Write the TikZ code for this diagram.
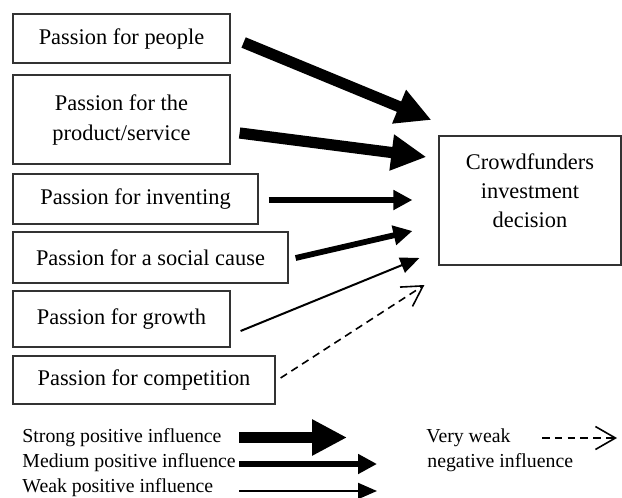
\documentclass[tikz,border=0pt]{standalone}
\usepackage{fontspec}
\setmainfont{Liberation Serif}
\usetikzlibrary{arrows.meta}
\tikzset{
  factor/.style={draw=black!80, line width=0.6pt, inner sep=0pt, align=center, font=\fontsize{11.2}{15}\selectfont},
  strong/.style={-{Triangle[length=17.5pt,width=17pt]}, line width=5.6pt},
  medium/.style={-{Triangle[length=9.5pt,width=9.5pt]}, line width=2.9pt},
  weak/.style={-{Triangle[length=9.5pt,width=8pt]}, line width=1pt},
  veryweak/.style={-{Straight Barb[length=10pt,width=11.5pt]}, line width=0.8pt, dash pattern=on 3.8pt off 2.6pt},
  legend/.style={anchor=west, inner sep=0pt, font=\fontsize{9.9}{12.5}\selectfont}
}
\begin{document}
\begin{tikzpicture}[x=0.5pt,y=-0.5pt]
\useasboundingbox (0,0) rectangle (622,498);

\node[factor, minimum width=108.5pt, minimum height=24.5pt] (people) at (121.5,38.5) {Passion for people};
\node[factor, minimum width=108.5pt, minimum height=44.5pt] (product) at (121.5,119.5) {Passion for the\\product/service};
\node[factor, minimum width=122.5pt, minimum height=25pt] (inventing) at (135.5,199) {Passion for inventing};
\node[factor, minimum width=137.5pt, minimum height=25.5pt] (social) at (150.5,257.5) {Passion for a social cause};
\node[factor, minimum width=108.5pt, minimum height=28pt] (growth) at (121.5,319) {Passion for growth};
\node[factor, minimum width=131pt, minimum height=24pt] (competition) at (144,380) {Passion for competition};

\node[factor, minimum width=91pt, minimum height=64.5pt] (decision) at (530,200.5) {};
\node[align=center, inner sep=0pt, font=\fontsize{11.2}{14.5}\selectfont] (decisiontext) at (530,191) {Crowdfunders\\investment\\decision};

\draw[strong] ([shift={(13,4)}]people.east) -- ([shift={(-7,-80.5)}]decision.west);
\draw[strong] ([shift={(9,13.5)}]product.east) -- ([shift={(-12,-43.5)}]decision.west);
\draw[medium] ([shift={(10,1)}]inventing.east) -- ([shift={(-26,-0.5)}]decision.west);
\draw[medium] ([shift={(7,0.5)}]social.east) -- ([shift={(-26,30.5)}]decision.west);
\draw[weak] ([shift={(10,12)}]growth.east) -- ([shift={(-19,57.5)}]decision.west);
\draw[veryweak] ([shift={(5,-2)}]competition.east) -- ([shift={(-14,84.5)}]decision.west);

\node[legend] (strongtxt) at (22,438) {Strong positive influence};
\node[legend] (mediumtxt) at (22,463) {Medium positive influence};
\node[legend] (weaktxt) at (22,488) {Weak positive influence};
\node[legend] (veryweaktxt) at (426,438) {Very weak};
\node[legend] (negativetxt) at (427,463) {negative influence};

\coordinate (strongA) at (239,437.5);
\coordinate (strongB) at (347,437.5);
\coordinate (mediumA) at (239,464);
\coordinate (mediumB) at (377,464);
\coordinate (weakA) at (239,491);
\coordinate (weakB) at (377,491);
\coordinate (veryweakA) at (542,438);
\coordinate (veryweakB) at (617,438);
\draw[strong] (strongA) -- (strongB);
\draw[medium] (mediumA) -- (mediumB);
\draw[weak] (weakA) -- (weakB);
\draw[veryweak] (veryweakA) -- (veryweakB);
\end{tikzpicture}
\end{document}
